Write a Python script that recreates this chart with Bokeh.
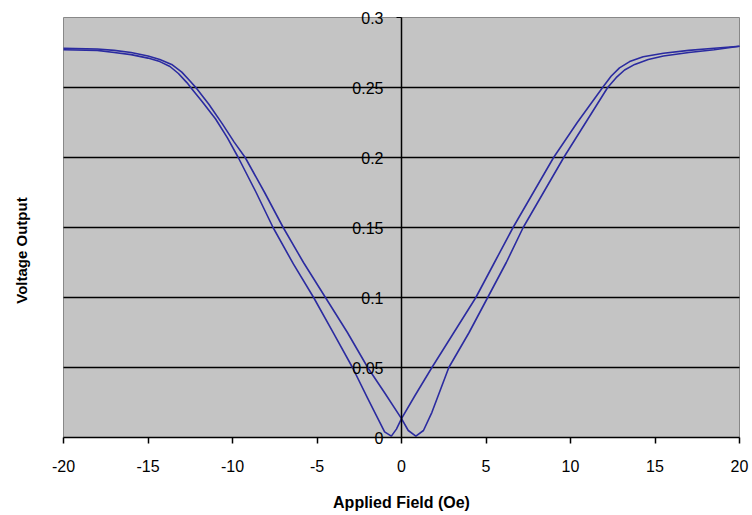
import math
from bokeh.plotting import figure
from bokeh.models import Range1d, FixedTicker, Label
from bokeh.embed import file_html
from bokeh.resources import INLINE

# Sweep with minimum near -1 Oe (outer on left, inner on right)
field_p = [-20, -18, -17, -16, -15, -14.3, -13.7, -13.2, -12.7, -12.4, -11.8, -11.0, -10.3,
           -9.66, -8.6, -7.6, -6.4, -5.2, -4.0, -2.9, -2.0, -1.5, -1.0, -0.6, -0.3, 0.0,
           0.8, 1.8, 3.1, 4.4, 5.5, 6.6, 7.8, 9.0, 10.4, 11.9, 12.4, 12.9, 13.5, 14.3,
           15.5, 17.0, 18.5, 20]
volt_p = [0.277, 0.2765, 0.275, 0.2735, 0.271, 0.2685, 0.265, 0.260, 0.2535, 0.249, 0.240, 0.2275, 0.214,
          0.200, 0.175, 0.150, 0.124, 0.100, 0.074, 0.050, 0.028, 0.016, 0.004, 0.001, 0.006, 0.0135,
          0.030, 0.050, 0.075, 0.100, 0.125, 0.150, 0.175, 0.200, 0.225, 0.250, 0.258, 0.264, 0.2685, 0.272,
          0.2745, 0.2765, 0.278, 0.2795]

# Sweep with minimum near +1 Oe (inner on left, outer on right)
field_q = [-20, -18, -17, -16, -15, -14.3, -13.6, -13.0, -12.5, -12.1, -11.4, -10.6, -9.9,
           -9.25, -8.1, -7.0, -5.8, -4.5, -3.2, -2.0, -1.0, 0.0, 0.4, 0.85, 1.3, 1.8,
           2.8, 4.0, 5.1, 6.2, 7.2, 8.4, 9.6, 10.9, 12.2, 12.7, 13.2, 13.8, 14.6,
           15.5, 17.0, 18.5, 20]
volt_q = [0.278, 0.2775, 0.2765, 0.275, 0.2725, 0.270, 0.2665, 0.261, 0.2545, 0.249, 0.238, 0.224, 0.211,
          0.200, 0.175, 0.150, 0.125, 0.100, 0.075, 0.050, 0.032, 0.0135, 0.005, 0.001, 0.005, 0.018,
          0.050, 0.075, 0.100, 0.125, 0.150, 0.175, 0.200, 0.225, 0.250, 0.257, 0.2625, 0.2665, 0.270,
          0.2725, 0.275, 0.277, 0.2795]

x_ticks = [-20, -15, -10, -5, 0, 5, 10, 15, 20]
x_tick_labels = ["-20", "-15", "-10", "-5", "0", "5", "10", "15", "20"]
y_ticks = [0, 0.05, 0.1, 0.15, 0.2, 0.25, 0.3]
y_tick_labels = ["0", "0.05", "0.1", "0.15", "0.2", "0.25", "0.3"]

FONT = "Liberation Sans"
LINE = "#2b2ba0"

# layout (pixels): canvas size and where the grey plotting area sits in it
W, H = 750, 512
AREA_L, AREA_R, AREA_T, AREA_B = 63, 739, 17, 437

sx = (AREA_R - AREA_L) / (x_ticks[-1] - x_ticks[0])
sy = (AREA_B - AREA_T) / (y_ticks[-1] - y_ticks[0])
x_range = Range1d(x_ticks[0] - AREA_L / sx, x_ticks[-1] + (W - AREA_R) / sx)
y_range = Range1d(y_ticks[0] - (H - AREA_B) / sy, y_ticks[-1] + AREA_T / sy)

p = figure(width=W, height=H, output_backend="svg", toolbar_location=None,
           x_range=x_range, y_range=y_range,
           min_border=0, min_border_left=0, min_border_right=0,
           min_border_top=0, min_border_bottom=0)

p.background_fill_color = "white"
p.border_fill_color = "white"
p.outline_line_color = None
p.xgrid.visible = False
p.ygrid.visible = False

# grey plotting area
p.quad(left=[x_ticks[0]], right=[x_ticks[-1]], bottom=[y_ticks[0]], top=[y_ticks[-1]],
       fill_color="#c4c4c4", line_color="#888888", line_width=1)

# horizontal grid lines
inner = y_ticks[1:-1]
p.segment(x0=[x_ticks[0]] * len(inner), x1=[x_ticks[-1]] * len(inner), y0=inner, y1=inner,
          line_color="black", line_width=1.5)

# the two sweeps
p.line(field_p, volt_p, line_color=LINE, line_width=1.6)
p.line(field_q, volt_q, line_color=LINE, line_width=1.6)

# x axis along y = 0
xa = p.xaxis[0]
xa.fixed_location = 0
xa.bounds = (x_ticks[0], x_ticks[-1])
xa.ticker = FixedTicker(ticks=x_ticks)
xa.major_label_overrides = {t: s for t, s in zip(x_ticks, x_tick_labels)}
xa.axis_label = "Applied Field (Oe)"
xa.axis_label_text_font = FONT
xa.axis_label_text_font_style = "bold"
xa.axis_label_text_font_size = "16px"
xa.axis_label_text_color = "black"
xa.axis_label_standoff = 19
xa.major_label_text_font = FONT
xa.major_label_text_font_size = "16px"
xa.major_label_text_color = "black"
xa.major_label_standoff = 16
xa.major_tick_out = 6
xa.major_tick_in = 0
xa.minor_tick_out = 0
xa.minor_tick_in = 0
xa.axis_line_color = "black"
xa.axis_line_width = 1.5
xa.major_tick_line_color = "black"
xa.major_tick_line_width = 1.5

# y axis through x = 0
ya = p.yaxis[0]
ya.fixed_location = 0
ya.bounds = (y_ticks[0], y_ticks[-1])
ya.ticker = FixedTicker(ticks=y_ticks)
ya.major_label_overrides = {t: s for t, s in zip(y_ticks, y_tick_labels)}
ya.major_label_text_font = FONT
ya.major_label_text_font_size = "16px"
ya.major_label_text_color = "black"
ya.major_label_standoff = 13
ya.major_tick_out = 5
ya.major_tick_in = 0
ya.minor_tick_out = 0
ya.minor_tick_in = 0
ya.axis_line_color = "black"
ya.axis_line_width = 1.5
ya.major_tick_line_color = "black"
ya.axis_label = None

# y-axis title in the left margin
p.add_layout(Label(x=x_ticks[0], y=(y_ticks[0] + y_ticks[-1]) / 2,
                   x_offset=-42, y_offset=-23, angle=math.pi / 2,
                   text="Voltage Output", text_font=FONT, text_font_style="bold",
                   text_font_size="15px", text_align="center", text_baseline="middle",
                   text_color="black"))

open("out.html", "w").write(file_html(p, INLINE))
